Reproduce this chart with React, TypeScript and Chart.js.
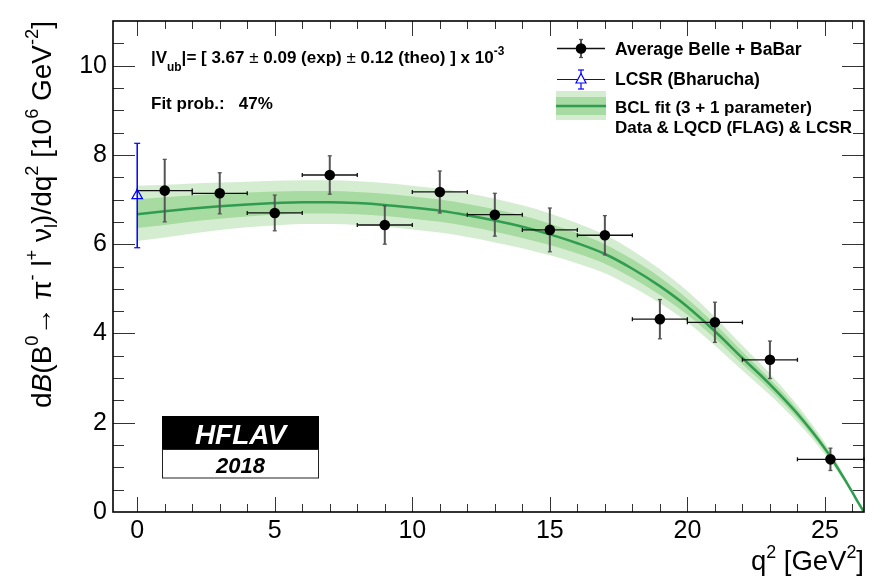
import React, { useEffect, useRef } from 'react';
import { Chart, registerables } from 'chart.js';

Chart.register(...registerables);

// ---------------- data ----------------
const binCenters = [1, 3, 5, 7, 9, 11, 13, 15, 17, 19, 21, 23, 25.2];
const binLow = [0, 2, 4, 6, 8, 10, 12, 14, 16, 18, 20, 22, 24];
const binHigh = [2, 4, 6, 8, 10, 12, 14, 16, 18, 20, 22, 24, 26.42];
const avgValues = [7.2, 7.14, 6.7, 7.55, 6.43, 7.17, 6.66, 6.32, 6.2, 4.32, 4.25, 3.41, 1.18];
const avgErrors = [0.7, 0.46, 0.4, 0.43, 0.43, 0.47, 0.48, 0.49, 0.44, 0.44, 0.45, 0.42, 0.25];

const lcsrQ2 = [0];
const lcsrValues = [7.09];
const lcsrErrors = [1.17];

const fitQ2 = [0, 1, 2, 3, 4, 5, 6, 7, 8, 9, 10, 11, 12, 13, 14, 15, 16, 17, 18, 19, 20, 21, 22, 23, 24, 25, 25.5, 26, 26.2, 26.42];
const fitCentral = [6.67, 6.74, 6.8, 6.85, 6.89, 6.92, 6.94, 6.94, 6.92, 6.88, 6.82, 6.75, 6.65, 6.53, 6.39, 6.22, 6.02, 5.78, 5.45, 5.06, 4.6, 4.05, 3.45, 2.86, 2.2, 1.42, 0.95, 0.44, 0.22, 0];
const fitInnerLow = [6.36, 6.43, 6.51, 6.57, 6.62, 6.66, 6.69, 6.69, 6.67, 6.63, 6.57, 6.5, 6.4, 6.28, 6.14, 5.98, 5.79, 5.56, 5.24, 4.86, 4.42, 3.89, 3.31, 2.74, 2.1, 1.35, 0.9, 0.42, 0.21, 0];
const fitInnerHigh = [7.0, 7.05, 7.09, 7.13, 7.16, 7.18, 7.19, 7.19, 7.17, 7.13, 7.07, 7.0, 6.9, 6.78, 6.64, 6.46, 6.25, 6.0, 5.66, 5.26, 4.78, 4.21, 3.59, 2.98, 2.3, 1.49, 1.0, 0.46, 0.23, 0];
const fitOuterLow = [6.07, 6.15, 6.24, 6.32, 6.38, 6.42, 6.45, 6.45, 6.43, 6.39, 6.33, 6.26, 6.16, 6.04, 5.91, 5.75, 5.57, 5.35, 5.04, 4.68, 4.25, 3.73, 3.17, 2.62, 2.01, 1.29, 0.86, 0.4, 0.2, 0];
const fitOuterHigh = [7.31, 7.33, 7.36, 7.38, 7.4, 7.42, 7.43, 7.43, 7.41, 7.37, 7.31, 7.24, 7.14, 7.02, 6.87, 6.69, 6.47, 6.21, 5.86, 5.44, 4.95, 4.37, 3.73, 3.1, 2.39, 1.55, 1.04, 0.48, 0.24, 0];

const xTicks = [0, 5, 10, 15, 20, 25];
const yTicks = [0, 2, 4, 6, 8, 10];
const X_MIN = -0.88;
const X_MAX = 26.42;
const Y_MIN = 0;
const Y_MAX = 11;

// ---------------- style ----------------
const FONT = '"Liberation Sans", Arial, Helvetica, sans-serif';
const OUTER_COLOR = '#d4edd0';
const INNER_COLOR = '#a8dba1';
const LINE_COLOR = '#2f9c4f';
const BLUE = '#0000ff';

type Seg = { t: string; s?: number; dy?: number; it?: boolean; w?: string };

function segFont(seg: Seg, size: number, weight: string) {
  const sz = size * (seg.s ?? 1);
  return `${seg.it ? 'italic ' : ''}${seg.w ?? weight} ${sz}px ${FONT}`;
}

function richWidth(ctx: CanvasRenderingContext2D, segs: Seg[], size: number, weight: string) {
  let w = 0;
  for (const seg of segs) {
    ctx.font = segFont(seg, size, weight);
    w += ctx.measureText(seg.t).width;
  }
  return w;
}

function drawRich(
  ctx: CanvasRenderingContext2D,
  segs: Seg[],
  x: number,
  y: number,
  size: number,
  weight: string,
  align: 'left' | 'right' | 'center',
  color: string
) {
  const total = richWidth(ctx, segs, size, weight);
  let cx = align === 'left' ? x : align === 'right' ? x - total : x - total / 2;
  ctx.fillStyle = color;
  ctx.textAlign = 'left';
  ctx.textBaseline = 'alphabetic';
  for (const seg of segs) {
    ctx.font = segFont(seg, size, weight);
    ctx.fillText(seg.t, cx, y + (seg.dy ?? 0) * size);
    cx += ctx.measureText(seg.t).width;
  }
}

function line(ctx: CanvasRenderingContext2D, x1: number, y1: number, x2: number, y2: number) {
  ctx.beginPath();
  ctx.moveTo(x1, y1);
  ctx.lineTo(x2, y2);
  ctx.stroke();
}

const POINTS_INDEX = 5;
const LCSR_INDEX = 6;

function drawAvgErrors(chart: any) {
  const ctx: CanvasRenderingContext2D = chart.ctx;
  const xs = chart.scales.x;
  const ys = chart.scales.y;
  ctx.save();
  for (let i = 0; i < binCenters.length; i++) {
    const px = xs.getPixelForValue(binCenters[i]);
    const py = ys.getPixelForValue(avgValues[i]);
    const pHi = ys.getPixelForValue(avgValues[i] + avgErrors[i]);
    const pLo = ys.getPixelForValue(avgValues[i] - avgErrors[i]);
    const xl = xs.getPixelForValue(binLow[i]);
    const xh = xs.getPixelForValue(binHigh[i]);
    ctx.strokeStyle = '#111';
    ctx.lineWidth = 1.3;
    line(ctx, xl, py, xh, py);
    line(ctx, xl, py - 2, xl, py + 2);
    line(ctx, xh, py - 2, xh, py + 2);
    ctx.strokeStyle = '#555';
    ctx.lineWidth = 2;
    line(ctx, px, pHi, px, pLo);
    ctx.lineWidth = 1.3;
    line(ctx, px - 2, pHi, px + 2, pHi);
    line(ctx, px - 2, pLo, px + 2, pLo);
  }
  ctx.restore();
}

function drawLcsrErrors(chart: any) {
  const ctx: CanvasRenderingContext2D = chart.ctx;
  const xs = chart.scales.x;
  const ys = chart.scales.y;
  ctx.save();
  ctx.strokeStyle = BLUE;
  ctx.lineWidth = 1.5;
  for (let i = 0; i < lcsrQ2.length; i++) {
    const px = xs.getPixelForValue(lcsrQ2[i]);
    const pHi = ys.getPixelForValue(lcsrValues[i] + lcsrErrors[i]);
    const pLo = ys.getPixelForValue(lcsrValues[i] - lcsrErrors[i]);
    line(ctx, px, pHi, px, pLo);
    ctx.lineWidth = 1.2;
    line(ctx, px - 3, pHi, px + 3, pHi);
    line(ctx, px - 3, pLo, px + 3, pLo);
  }
  ctx.restore();
}

const rootPlugin = {
  id: 'rootStyle',
  beforeDatasetDraw(chart: any, args: any) {
    if (args.index === POINTS_INDEX) drawAvgErrors(chart);
    if (args.index === LCSR_INDEX) drawLcsrErrors(chart);
  },
  afterDraw(chart: any) {
    const ctx: CanvasRenderingContext2D = chart.ctx;
    const { left, right, top, bottom } = chart.chartArea;
    const xs = chart.scales.x;
    const ys = chart.scales.y;
    ctx.save();

    // ticks on all four sides (pointing inward)
    ctx.strokeStyle = '#333';
    ctx.lineWidth = 1;
    for (let v = 0; v <= 26; v += 1) {
      const px = Math.round(xs.getPixelForValue(v)) + 0.5;
      const len = v % 5 === 0 ? 15 : 8;
      line(ctx, px, bottom, px, bottom - len);
      line(ctx, px, top, px, top + len);
    }
    for (let v = 0.5; v < Y_MAX; v += 0.5) {
      const py = Math.round(ys.getPixelForValue(v)) + 0.5;
      const len = v % 2 === 0 ? 22 : 11;
      line(ctx, left, py, left + len, py);
      line(ctx, right, py, right - len, py);
    }

    // frame
    ctx.strokeStyle = '#000';
    ctx.lineWidth = 1.6;
    ctx.strokeRect(left, top, right - left, bottom - top);

    // axis titles
    drawRich(
      ctx,
      [{ t: 'q' }, { t: '2', s: 0.65, dy: -0.45 }, { t: ' [GeV' }, { t: '2', s: 0.65, dy: -0.45 }, { t: ']' }],
      right,
      570,
      27.5,
      'normal',
      'right',
      '#000'
    );
    ctx.save();
    ctx.translate(51, top);
    ctx.rotate(-Math.PI / 2);
    drawRich(
      ctx,
      [
        { t: 'd' },
        { t: 'B', it: true },
        { t: '(B' },
        { t: '0', s: 0.65, dy: -0.45 },
        { t: '\u2192 \u03C0' },
        { t: '-', s: 0.65, dy: -0.45 },
        { t: ' l' },
        { t: '+', s: 0.65, dy: -0.45 },
        { t: ' \u03BD' },
        { t: 'l', s: 0.65, dy: 0.2 },
        { t: ')/dq' },
        { t: '2', s: 0.65, dy: -0.45 },
        { t: ' [10' },
        { t: '6', s: 0.65, dy: -0.45 },
        { t: ' GeV' },
        { t: '-2', s: 0.65, dy: -0.45 },
        { t: ']' },
      ],
      0,
      0,
      28,
      'normal',
      'right',
      '#000'
    );
    ctx.restore();

    // fit info text
    drawRich(
      ctx,
      [
        { t: '|V' },
        { t: 'ub', s: 0.7, dy: 0.45 },
        { t: '|= [ 3.67 ' },
        { t: '\u00B1', w: 'normal' },
        { t: ' 0.09 (exp) ' },
        { t: '\u00B1', w: 'normal' },
        { t: ' 0.12 (theo) ] x 10' },
        { t: '-3', s: 0.7, dy: -0.5 },
      ],
      151,
      63,
      17,
      'bold',
      'left',
      '#000'
    );
    drawRich(ctx, [{ t: 'Fit prob.:   47%' }], 151, 109, 17, 'bold', 'left', '#000');

    // legend
    // row 1: average
    ctx.strokeStyle = '#111';
    ctx.lineWidth = 1.3;
    line(ctx, 557, 48.5, 605, 48.5);
    ctx.strokeStyle = '#555';
    ctx.lineWidth = 2;
    line(ctx, 581, 39.5, 581, 57.5);
    ctx.lineWidth = 1.3;
    line(ctx, 579, 39.5, 583, 39.5);
    line(ctx, 579, 57.5, 583, 57.5);
    ctx.fillStyle = '#000';
    ctx.beginPath();
    ctx.arc(581, 48.5, 5.3, 0, Math.PI * 2);
    ctx.fill();
    drawRich(ctx, [{ t: 'Average Belle + BaBar' }], 615, 55, 17.5, 'bold', 'left', '#000');
    // row 2: LCSR
    ctx.strokeStyle = BLUE;
    ctx.lineWidth = 1.2;
    line(ctx, 557, 79.5, 605, 79.5);
    line(ctx, 581, 70, 581, 89);
    line(ctx, 578, 70, 584, 70);
    line(ctx, 578, 89, 584, 89);
    ctx.fillStyle = '#fff';
    ctx.beginPath();
    ctx.moveTo(581, 73.5);
    ctx.lineTo(586, 83);
    ctx.lineTo(576, 83);
    ctx.closePath();
    ctx.fill();
    ctx.stroke();
    drawRich(ctx, [{ t: 'LCSR (Bharucha)' }], 615, 85, 17.5, 'bold', 'left', '#000');
    // row 3: fit band
    ctx.fillStyle = OUTER_COLOR;
    ctx.fillRect(556, 91, 50, 29);
    ctx.fillStyle = INNER_COLOR;
    ctx.fillRect(556, 97, 50, 18);
    ctx.strokeStyle = LINE_COLOR;
    ctx.lineWidth = 2.5;
    line(ctx, 556, 106, 606, 106);
    drawRich(ctx, [{ t: 'BCL fit (3 + 1 parameter)' }], 615, 113, 17, 'bold', 'left', '#000');
    drawRich(ctx, [{ t: 'Data & LQCD (FLAG) & LCSR' }], 615, 132.5, 17, 'bold', 'left', '#000');

    // HFLAV logo
    ctx.fillStyle = '#000';
    ctx.fillRect(162, 416, 157, 33);
    ctx.fillStyle = '#fff';
    ctx.fillRect(162, 449, 157, 29);
    ctx.strokeStyle = '#222';
    ctx.lineWidth = 1;
    ctx.strokeRect(162.5, 449.5, 156, 28.5);
    drawRich(ctx, [{ t: 'HFLAV', it: true }], 240.5, 443.5, 28, 'bold', 'center', '#fff');
    drawRich(ctx, [{ t: '2018', it: true }], 240.5, 473, 22, 'bold', 'center', '#000');

    ctx.restore();
  },
};

function pts(xsArr: number[], ysArr: number[]) {
  return xsArr.map((x, i) => ({ x, y: ysArr[i] }));
}

export default function App() {
  const ref = useRef<HTMLCanvasElement>(null);
  useEffect(() => {
    const canvas = ref.current;
    if (!canvas) return;
    const bandBase = {
      showLine: true,
      borderWidth: 0,
      pointRadius: 0,
      cubicInterpolationMode: 'monotone',
    };
    const chart = new Chart(canvas, {
      type: 'scatter',
      data: {
        datasets: [
          { ...bandBase, data: pts(fitQ2, fitOuterLow), fill: false, order: 10 },
          { ...bandBase, data: pts(fitQ2, fitOuterHigh), fill: '-1', backgroundColor: OUTER_COLOR, order: 10 },
          { ...bandBase, data: pts(fitQ2, fitInnerLow), fill: false, order: 9 },
          { ...bandBase, data: pts(fitQ2, fitInnerHigh), fill: '-1', backgroundColor: INNER_COLOR, order: 9 },
          {
            data: pts(fitQ2, fitCentral),
            showLine: true,
            borderColor: LINE_COLOR,
            borderWidth: 2.5,
            pointRadius: 0,
            fill: false,
            cubicInterpolationMode: 'monotone',
            order: 8,
          },
          {
            data: pts(binCenters, avgValues),
            showLine: false,
            pointRadius: 5.3,
            pointBackgroundColor: '#000',
            pointBorderColor: '#000',
            pointBorderWidth: 0,
            order: 2,
          },
          {
            data: pts(lcsrQ2, lcsrValues),
            showLine: false,
            pointStyle: 'triangle',
            pointRadius: 6,
            pointBackgroundColor: 'rgba(0,0,0,0)',
            pointBorderColor: BLUE,
            pointBorderWidth: 1.3,
            order: 1,
          },
        ],
      } as any,
      options: {
        responsive: false,
        animation: false,
        devicePixelRatio: 1,
        events: [],
        layout: { padding: { top: 12, right: 16, left: 0, bottom: 0 } },
        plugins: {
          legend: { display: false },
          tooltip: { enabled: false },
          title: { display: false },
        },
        scales: {
          x: {
            type: 'linear',
            min: X_MIN,
            max: X_MAX,
            grid: { display: false, drawTicks: false },
            border: { display: false },
            ticks: {
              color: '#000',
              font: { family: FONT, size: 25 },
              padding: 4,
              maxRotation: 0,
              autoSkip: false,
            },
            afterBuildTicks: (s: any) => {
              s.ticks = xTicks.map((v) => ({ value: v }));
            },
            afterFit: (s: any) => {
              s.height = 67;
            },
          },
          y: {
            type: 'linear',
            min: Y_MIN,
            max: Y_MAX,
            grid: { display: false, drawTicks: false },
            border: { display: false },
            ticks: {
              color: '#000',
              font: { family: FONT, size: 25 },
              padding: 6,
              autoSkip: false,
            },
            afterBuildTicks: (s: any) => {
              s.ticks = yTicks.map((v) => ({ value: v }));
            },
            afterFit: (s: any) => {
              s.width = 113;
            },
          },
        },
      } as any,
      plugins: [rootPlugin as any],
    });
    return () => chart.destroy();
  }, []);
  return (
    <div style={{ position: 'fixed', left: 0, top: 0, width: 880, height: 579, background: '#fff' }}>
      <canvas ref={ref} width={880} height={579} style={{ width: 880, height: 579, display: 'block' }} />
    </div>
  );
}
